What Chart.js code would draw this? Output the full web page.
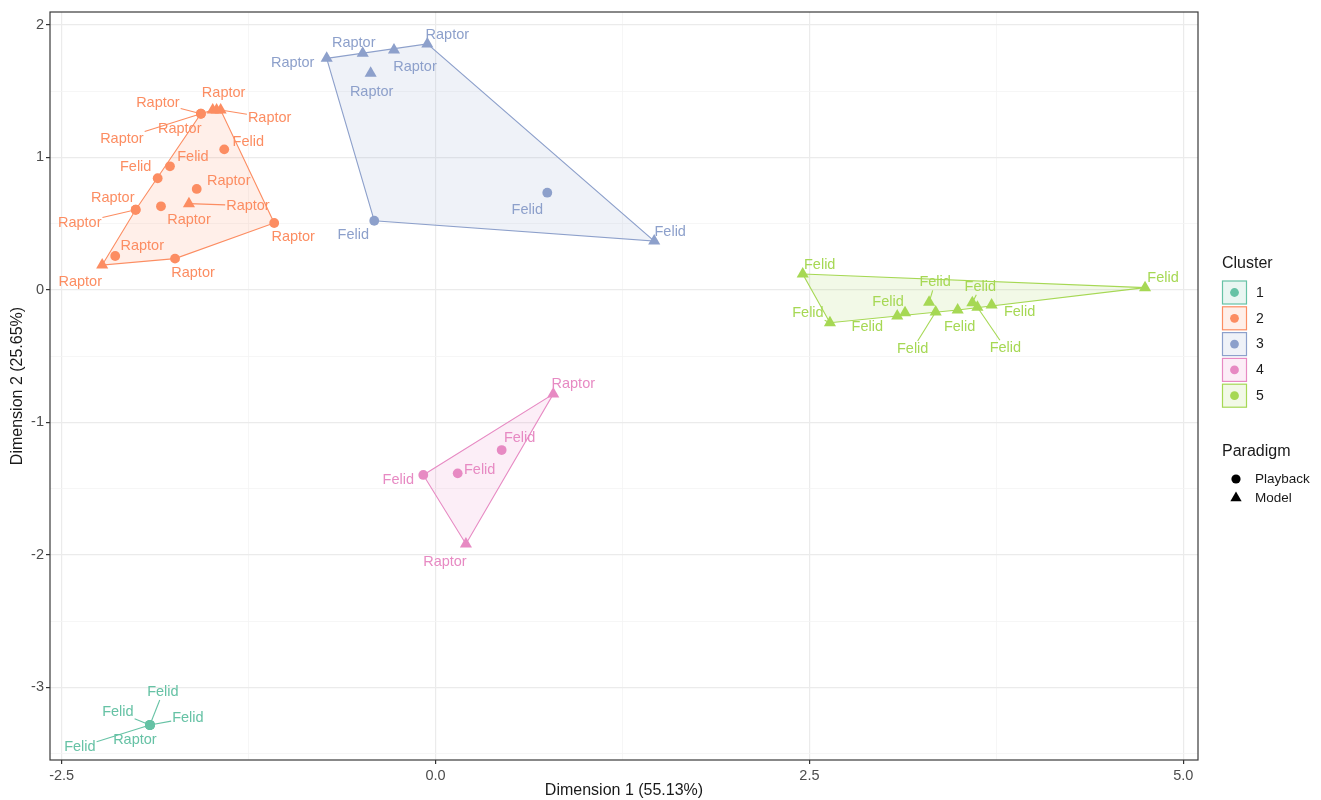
<!DOCTYPE html>
<html><head><meta charset="utf-8">
<script src="https://cdn.jsdelivr.net/npm/chart.js@4.4.1/dist/chart.umd.min.js"></script>
<style>html,body{margin:0;padding:0;background:#fff;}#wrap{position:relative;width:1321px;height:800px;}</style>
</head><body><div id="wrap"><canvas id="c" width="1321" height="800"></canvas></div>
<script>
// ---------- data ----------
const clusterIds = ['1','2','3','4','5'];
const paradigms = ['Playback','Model'];
const dim1 = [
  -1.910,-1.910,-1.910,-1.910,-1.910,
  -1.569,-1.569,-1.490,-1.437,-1.464,-1.413,-1.776,-1.858,-1.597,-1.649,-1.836,-2.005,-2.005,-1.079,-2.142,-1.742,-2.229,
  -0.728,-0.487,-0.278,-0.055,-0.434,-0.410,0.747,1.462,
  0.787,0.442,0.148,-0.082,0.203,
  2.455,4.744,2.637,3.087,3.139,3.300,3.344,3.491,3.589,3.623,3.718
];
const dim2 = [
  -3.285,-3.285,-3.285,-3.285,-3.285,
  1.330,1.330,1.358,1.358,1.358,1.061,0.933,0.843,0.762,0.651,0.631,0.605,0.605,0.505,0.256,0.236,0.188,
  1.748,1.786,1.811,1.857,1.635,0.522,0.734,0.369,
  -0.786,-1.209,-1.385,-1.397,-1.918,
  0.120,0.017,-0.248,-0.197,-0.172,-0.094,-0.167,-0.152,-0.097,-0.131,-0.114
];
const pointCluster = [
  '1','1','1','1','1',
  '2','2','2','2','2','2','2','2','2','2','2','2','2','2','2','2','2',
  '3','3','3','3','3','3','3','3',
  '4','4','4','4','4',
  '5','5','5','5','5','5','5','5','5','5','5'
];
const pointParadigm = [
  'Playback','Playback','Playback','Playback','Playback',
  'Playback','Playback','Model','Model','Model','Playback','Playback','Playback','Playback','Model','Playback','Playback','Playback','Playback','Playback','Playback','Model',
  'Model','Model','Model','Model','Model','Playback','Playback','Model',
  'Model','Playback','Playback','Playback','Model',
  'Model','Model','Model','Model','Model','Model','Model','Model','Model','Model','Model'
];
const pointLabel = [
  'Felid','Felid','Felid','Raptor','Felid',
  'Raptor','Raptor','Raptor','Raptor','Raptor','Felid','Felid','Felid','Raptor','Raptor','Raptor','Raptor','Raptor','Raptor','Raptor','Raptor','Raptor',
  'Raptor','Raptor','Raptor','Raptor','Raptor','Felid','Felid','Felid',
  'Raptor','Felid','Felid','Felid','Raptor',
  'Felid','Felid','Felid','Felid','Felid','Felid','Felid','Felid','Felid','Felid','Felid'
];
const xMajorTicks = [-2.5, 0, 2.5, 5];
const xTickLabels = ['-2.5','0.0','2.5','5.0'];
const xMinorTicks = [-1.25, 1.25, 3.75];
const yMajorTicks = [-3, -2, -1, 0, 1, 2];
const yTickLabels = ['-3','-2','-1','0','1','2'];
const yMinorTicks = [-3.5, -2.5, -1.5, -0.5, 0.5, 1.5];
const xTitle = 'Dimension 1 (55.13%)';
const yTitle = 'Dimension 2 (25.65%)';

// ---------- layout / style (not data) ----------
const clusterColors = ['#66C2A5','#FC8D62','#8DA0CB','#E78AC3','#A6D854'];
// repel-label offsets in pixels from the point, and whether a leader segment is drawn
const labelDx = [13,-32,38,-15,-70,
  -43,-79,-33,49,7,24,23,-22,32,59,28,-23,-56,19,27,18,-22,
  -34,-9,21,20,1,-21,-20,16,
  20,18,22,-25,-21,
  17,18,-22,-30,-17,6,-23,2,8,28,28];
const labelDy = [-33,-13,-7,15,22,
  -11,25,19,8,-17,-7,-9,-11,-8,2,14,-12,13,14,-10,14,17,
  5,-10,17,-9,19,14,17,-9,
  -10,-12,-3,5,18,
  -9,-10,-10,11,-11,-20,37,17,-16,41,7];
const labelLeader = [1,1,1,0,1,
  1,1,0,1,0,0,0,0,0,1,0,0,1,0,0,0,0,
  0,0,0,0,0,0,0,0,
  0,0,0,0,0,
  0,0,1,0,0,1,1,0,1,1,0];

const FONT = '"Liberation Sans", Arial, sans-serif';

function hexA(hex, a){
  const r=parseInt(hex.slice(1,3),16), g=parseInt(hex.slice(3,5),16), b=parseInt(hex.slice(5,7),16);
  return `rgba(${r},${g},${b},${a})`;
}
function convexHull(pts){
  const p = pts.slice().sort((a,b)=>a[0]-b[0]||a[1]-b[1]);
  if (p.length<3) return p;
  const cross=(o,a,b)=>(a[0]-o[0])*(b[1]-o[1])-(a[1]-o[1])*(b[0]-o[0]);
  const lower=[], upper=[];
  for (const q of p){ while(lower.length>=2&&cross(lower[lower.length-2],lower[lower.length-1],q)<=0) lower.pop(); lower.push(q); }
  for (let i=p.length-1;i>=0;i--){ const q=p[i]; while(upper.length>=2&&cross(upper[upper.length-2],upper[upper.length-1],q)<=0) upper.pop(); upper.push(q); }
  upper.pop(); lower.pop();
  return lower.concat(upper);
}

const datasets = [];
clusterIds.forEach((cid, ci) => {
  paradigms.forEach(par => {
    const data = [];
    for (let i=0;i<dim1.length;i++) if (pointCluster[i]===cid && pointParadigm[i]===par) data.push({x:dim1[i], y:dim2[i]});
    if (!data.length) return;
    datasets.push({
      label: 'Cluster '+cid+' '+par,
      data,
      pointStyle: par==='Playback' ? 'circle' : 'triangle',
      pointRadius: par==='Playback' ? 4.9 : 7,
      backgroundColor: clusterColors[ci],
      borderColor: clusterColors[ci],
      borderWidth: 0
    });
  });
});

const hullPlugin = {
  id:'hulls',
  beforeDatasetsDraw(chart){
    const {ctx, scales:{x,y}, chartArea:a} = chart;
    ctx.save();
    ctx.beginPath(); ctx.rect(a.left,a.top,a.right-a.left,a.bottom-a.top); ctx.clip();
    clusterIds.forEach((cid, ci) => {
      const pts=[];
      for (let i=0;i<dim1.length;i++) if (pointCluster[i]===cid) pts.push([x.getPixelForValue(dim1[i]), y.getPixelForValue(dim2[i])]);
      const hull = convexHull(pts);
      if (hull.length<3) return;
      ctx.beginPath();
      hull.forEach((p,k)=> k?ctx.lineTo(p[0],p[1]):ctx.moveTo(p[0],p[1]));
      ctx.closePath();
      ctx.fillStyle = hexA(clusterColors[ci],0.14); ctx.fill();
      ctx.strokeStyle = clusterColors[ci]; ctx.lineWidth = 1.1; ctx.stroke();
    });
    ctx.restore();
  }
};

const labelPlugin = {
  id:'repelLabels',
  afterDatasetsDraw(chart){
    const {ctx, scales:{x,y}} = chart;
    ctx.save();
    ctx.font = '14.5px '+FONT;
    ctx.textAlign='center'; ctx.textBaseline='middle';
    for (let i=0;i<dim1.length;i++){
      const ci = clusterIds.indexOf(pointCluster[i]);
      const col = clusterColors[ci];
      const px = x.getPixelForValue(dim1[i]), py = y.getPixelForValue(dim2[i]);
      const cx = px+labelDx[i], cy = py+labelDy[i];
      if (labelLeader[i]){
        const hw = ctx.measureText(pointLabel[i]).width/2+1, hh = 8;
        const dx = cx-px, dy = cy-py;
        const s = Math.min(dx? hw/Math.abs(dx):Infinity, dy? hh/Math.abs(dy):Infinity);
        if (s<1){
          ctx.beginPath(); ctx.moveTo(px,py); ctx.lineTo(cx-dx*s, cy-dy*s);
          ctx.strokeStyle=col; ctx.lineWidth=1.1; ctx.stroke();
        }
      }
      ctx.fillStyle = col;
      ctx.fillText(pointLabel[i], cx, cy);
    }
    ctx.restore();
  }
};

const framePlugin = {
  id:'frame',
  afterDraw(chart){
    const {ctx, chartArea:a} = chart;
    ctx.save();
    ctx.strokeStyle='#3a3a3a'; ctx.lineWidth=1.2;
    ctx.strokeRect(a.left, a.top, a.right-a.left, a.bottom-a.top);
    // axis titles
    ctx.fillStyle='#1a1a1a'; ctx.font='16px '+FONT; ctx.textAlign='center'; ctx.textBaseline='middle';
    ctx.fillText(xTitle, (a.left+a.right)/2, 791);
    ctx.save(); ctx.translate(18,(a.top+a.bottom)/2); ctx.rotate(-Math.PI/2); ctx.fillText(yTitle,0,0); ctx.restore();
    // legend: Cluster
    ctx.textAlign='left';
    ctx.font='16px '+FONT; ctx.fillStyle='#1a1a1a';
    ctx.fillText('Cluster', 1222, 264);
    clusterIds.forEach((cid,ci)=>{
      const top = 281 + ci*25.8;
      ctx.fillStyle = hexA(clusterColors[ci],0.14);
      ctx.fillRect(1222.5, top, 24, 23);
      ctx.strokeStyle = clusterColors[ci]; ctx.lineWidth=1.2;
      ctx.strokeRect(1222.5, top, 24, 23);
      ctx.beginPath(); ctx.arc(1234.5, top+11.5, 4.4, 0, Math.PI*2); ctx.fillStyle=clusterColors[ci]; ctx.fill();
      ctx.fillStyle='#1a1a1a'; ctx.font='14px '+FONT;
      ctx.fillText(cid, 1256, top+12);
    });
    // legend: Paradigm
    ctx.font='16px '+FONT; ctx.fillStyle='#1a1a1a';
    ctx.fillText('Paradigm', 1222, 452);
    ctx.fillStyle='#000';
    ctx.beginPath(); ctx.arc(1236, 479, 4.6, 0, Math.PI*2); ctx.fill();
    const r=6.5, ty=498;
    ctx.beginPath();
    ctx.moveTo(1236, ty-r); ctx.lineTo(1236+r*Math.sin(2*Math.PI/3), ty-r*Math.cos(2*Math.PI/3));
    ctx.lineTo(1236+r*Math.sin(4*Math.PI/3), ty-r*Math.cos(4*Math.PI/3)); ctx.closePath(); ctx.fill();
    ctx.fillStyle='#1a1a1a'; ctx.font='13.5px '+FONT;
    ctx.fillText('Playback', 1255, 479);
    ctx.fillText('Model', 1255, 498);
    ctx.restore();
  }
};

const isMajor = (v, majors) => majors.some(m=>Math.abs(m-v)<1e-9);
function makeTicks(majors, minors){ return majors.concat(minors).sort((a,b)=>a-b).map(v=>({value:v})); }

new Chart(document.getElementById('c'), {
  type:'scatter',
  data:{datasets},
  plugins:[hullPlugin, labelPlugin, framePlugin],
  options:{
    responsive:false, animation:false, events:[],
    layout:{padding:{left:0, top:12, right:123, bottom:0}},
    plugins:{legend:{display:false}, tooltip:{enabled:false}},
    scales:{
      x:{
        type:'linear', min:-2.578, max:5.098,
        afterBuildTicks: s => { s.ticks = makeTicks(xMajorTicks, xMinorTicks); },
        afterFit: s => { s.height = 40; },
        border:{display:false},
        grid:{
          color: c => isMajor(c.tick.value, xMajorTicks) ? '#EBEBEB' : '#F4F4F4',
          lineWidth: c => isMajor(c.tick.value, xMajorTicks) ? 1.2 : 0.8,
          tickColor: c => isMajor(c.tick.value, xMajorTicks) ? '#333333' : 'rgba(0,0,0,0)',
          tickLength:4, tickWidth:1.2
        },
        ticks:{
          autoSkip:false, maxRotation:0, padding:3, color:'#4D4D4D', font:{family:FONT, size:14.5},
          callback: v => { const k = xMajorTicks.findIndex(m=>Math.abs(m-v)<1e-9); return k>=0 ? xTickLabels[k] : ''; }
        }
      },
      y:{
        type:'linear', min:-3.549, max:2.098,
        afterBuildTicks: s => { s.ticks = makeTicks(yMajorTicks, yMinorTicks); },
        afterFit: s => { s.width = 50; },
        border:{display:false},
        grid:{
          color: c => isMajor(c.tick.value, yMajorTicks) ? '#EBEBEB' : '#F4F4F4',
          lineWidth: c => isMajor(c.tick.value, yMajorTicks) ? 1.2 : 0.8,
          tickColor: c => isMajor(c.tick.value, yMajorTicks) ? '#333333' : 'rgba(0,0,0,0)',
          tickLength:4, tickWidth:1.2
        },
        ticks:{
          autoSkip:false, padding:2, color:'#4D4D4D', font:{family:FONT, size:14.5},
          callback: v => { const k = yMajorTicks.findIndex(m=>Math.abs(m-v)<1e-9); return k>=0 ? yTickLabels[k] : ''; }
        }
      }
    }
  }
});
</script></body></html>
